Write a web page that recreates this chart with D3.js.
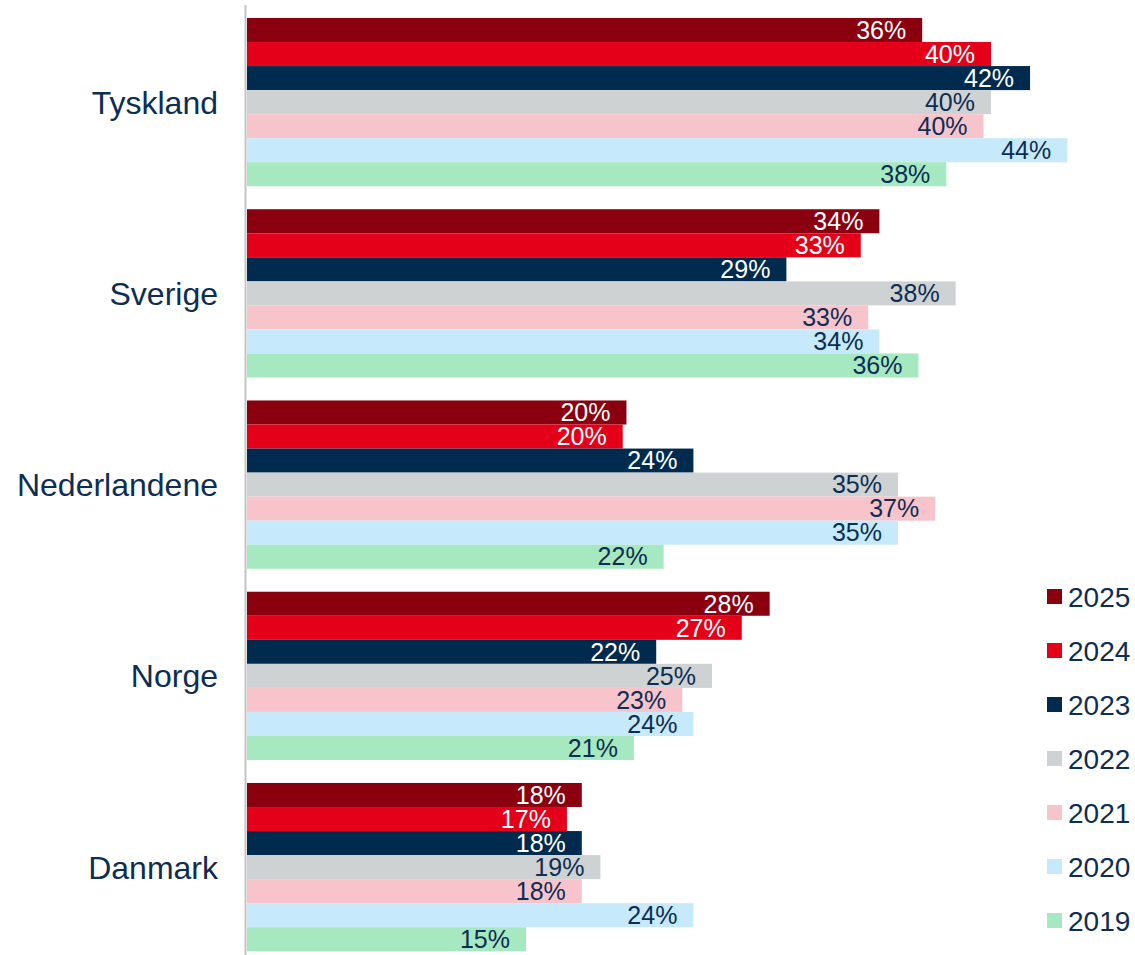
<!DOCTYPE html>
<html>
<head>
<meta charset="utf-8">
<script src="https://cdn.jsdelivr.net/npm/d3@7"></script>
<style>
  html, body { margin: 0; padding: 0; background: #fff; }
  svg { display: block; font-family: Arial, "Liberation Sans", sans-serif; }
</style>
</head>
<body>
<svg id="chart" width="1135" height="955"></svg>
<script>
// data
const countries = ['Tyskland', 'Sverige', 'Nederlandene', 'Norge', 'Danmark'];
const years = ['2025', '2024', '2023', '2022', '2021', '2020', '2019'];
const yearColors = ['#8A000F', '#E50019', '#002A4E', '#CFD2D3', '#F8C4CC', '#C6EAFB', '#A6E9C1'];
const labelColors = ['#fff', '#fff', '#fff', '#0D2D52', '#0D2D52', '#0D2D52', '#0D2D52'];

// one array per year, in country order
const v2025 = [36.3, 34.0, 20.4, 28.1, 18.0];
const v2024 = [40.0, 33.0, 20.2, 26.6, 17.2];
const v2023 = [42.1, 29.0, 24.0, 22.0, 18.0];
const v2022 = [40.0, 38.1, 35.0, 25.0, 19.0];
const v2021 = [39.6, 33.4, 37.0, 23.4, 18.0];
const v2020 = [44.1, 34.0, 35.0, 24.0, 24.0];
const v2019 = [37.6, 36.1, 22.4, 20.8, 15.0];
const series = [v2025, v2024, v2023, v2022, v2021, v2020, v2019];

const svg = d3.select('#chart');
const x0 = 247;

const x = d3.scaleLinear().domain([0, 1]).range([x0, x0 + 18.6]);
const y = d3.scaleBand().domain(countries).range([6.5, 962.75]).paddingInner(0.12).paddingOuter(0.06);
const yInner = d3.scaleBand().domain(years).range([0, y.bandwidth()]);

// axis line
svg.append('line')
  .attr('x1', 245.5).attr('x2', 245.5)
  .attr('y1', 5).attr('y2', 955)
  .attr('stroke', '#C4C4C4').attr('stroke-width', 2);

const groups = svg.append('g').selectAll('g')
  .data(countries)
  .join('g')
  .attr('transform', d => `translate(0,${y(d)})`);

groups.each(function (c, ci) {
  const g = d3.select(this);
  years.forEach((yr, yi) => {
    const v = series[yi][ci];
    g.append('rect')
      .attr('x', x(0))
      .attr('y', yInner(yr))
      .attr('width', x(v) - x(0))
      .attr('height', yInner.bandwidth())
      .attr('fill', yearColors[yi]);
    g.append('text')
      .attr('x', x(v) - 16)
      .attr('y', yInner(yr) + yInner.bandwidth() / 2)
      .attr('dy', '0.35em')
      .attr('text-anchor', 'end')
      .attr('fill', labelColors[yi])
      .style('font-size', '25px')
      .text(Math.round(v) + '%');
  });
});

// category labels
svg.append('g').selectAll('text')
  .data(countries)
  .join('text')
  .attr('x', 218)
  .attr('y', d => y(d) + y.bandwidth() / 2)
  .attr('dy', '0.36em')
  .attr('text-anchor', 'end')
  .attr('fill', '#0D2D52')
  .style('font-size', '32px')
  .text(d => d);

// legend
const legend = svg.append('g').selectAll('g')
  .data(years)
  .join('g')
  .attr('transform', (d, i) => `translate(1047,${596.5 + i * 54})`);
legend.append('rect')
  .attr('x', 0).attr('y', -7.5)
  .attr('width', 15).attr('height', 15)
  .attr('fill', (d, i) => yearColors[i]);
legend.append('text')
  .attr('x', 21).attr('y', 0)
  .attr('dy', '0.36em')
  .attr('fill', '#0D2D52')
  .style('font-size', '28px')
  .text(d => d);
</script>
</body>
</html>
